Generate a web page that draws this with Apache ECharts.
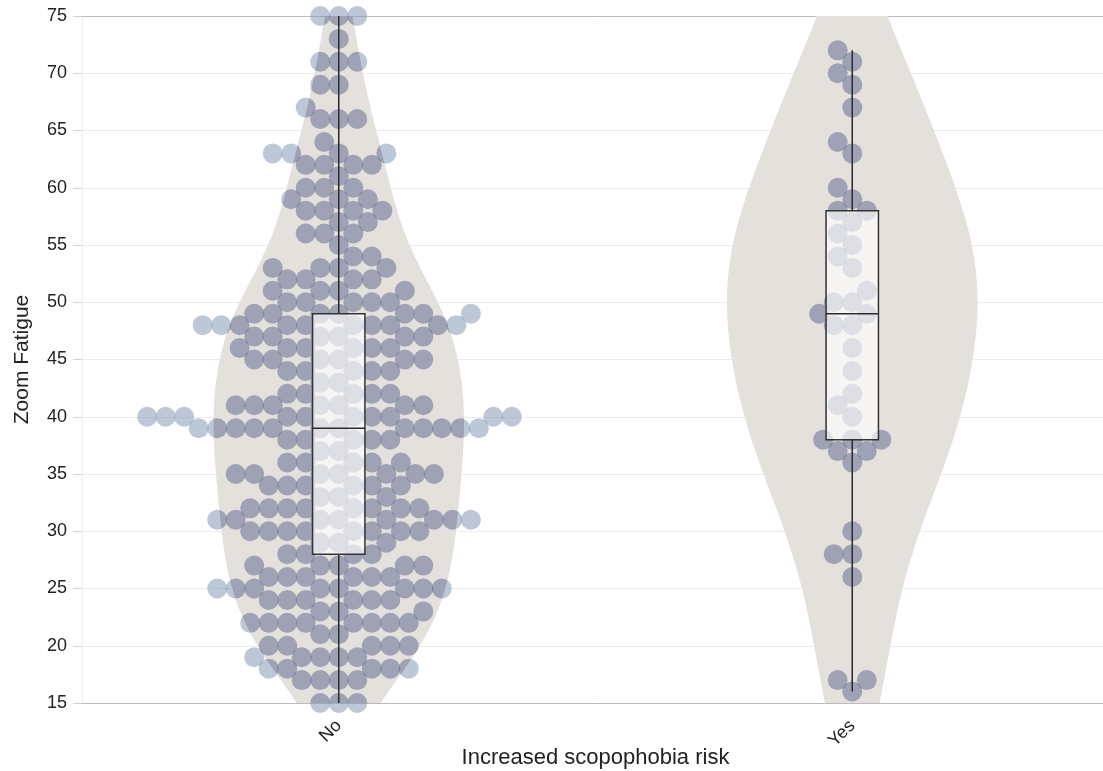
<!DOCTYPE html>
<html>
<head>
<meta charset="utf-8">
<title>Zoom Fatigue</title>
<script src="https://cdn.jsdelivr.net/npm/echarts/dist/echarts.min.js"></script>
<style>
  html, body { margin: 0; padding: 0; background: #fff; }
  #main { width: 1103px; height: 771px; }
</style>
</head>
<body>
<div id="main"></div>
<script>
// 类别
const groups = ['No', 'Yes'];

// 各组的原始得分
const noScores = [
    75, 75, 75, 73, 71, 71, 71, 69, 69, 67, 66, 66, 66, 64,
    63, 63, 63, 63, 62, 62, 62, 62, 61, 60, 60, 60, 59, 59, 59,
    58, 58, 58, 58, 57, 57, 56, 56, 56, 55, 54, 54,
    53, 53, 53, 53, 52, 52, 52, 52, 51, 51, 51, 51,
    50, 50, 50, 50, 50, 49, 49, 49, 49, 49, 49, 49,
    48, 48, 48, 48, 48, 48, 48, 48, 48, 48,
    47, 47, 47, 47, 47, 47, 46, 46, 46, 46, 46, 46,
    45, 45, 45, 45, 45, 45, 44, 44, 44, 44, 44, 43, 43,
    42, 42, 42, 42, 42, 41, 41, 41, 41, 41, 41, 41,
    40, 40, 40, 40, 40, 40, 40, 40, 40, 40,
    39, 39, 39, 39, 39, 39, 39, 39, 39, 39, 39, 39,
    38, 38, 38, 38, 38, 37, 37, 36, 36, 36, 36, 36,
    35, 35, 35, 35, 35, 35, 35, 34, 34, 34, 34, 34, 34, 33, 33, 33,
    32, 32, 32, 32, 32, 32, 32, 32, 31, 31, 31, 31, 31, 31, 31, 31,
    30, 30, 30, 30, 30, 30, 30, 30, 29, 29, 29, 28, 28, 28, 28,
    27, 27, 27, 27, 27, 26, 26, 26, 26, 26, 26,
    25, 25, 25, 25, 25, 25, 25, 25, 24, 24, 24, 24, 24, 24, 23, 23, 23,
    22, 22, 22, 22, 22, 22, 22, 22, 21, 21,
    20, 20, 20, 20, 20, 19, 19, 19, 19, 19, 18, 18, 18, 18, 18,
    17, 17, 17, 17, 15, 15, 15
];
const yesScores = [
    72, 71, 70, 69, 67, 64, 63, 60, 59, 58, 58, 57, 56, 55, 54, 53,
    51, 50, 50, 49, 49, 48, 48, 46, 44, 42, 41, 40, 38, 38, 38,
    37, 37, 36, 30, 28, 28, 26, 17, 17, 16
];

// 箱线图数值
const boxLow = [15, 16];
const boxQ1 = [28, 38];
const boxMedian = [39, 49];
const boxQ3 = [49, 58];
const boxHigh = [75, 72];

const yTicks = [15, 20, 25, 30, 35, 40, 45, 50, 55, 60, 65, 70, 75];

const FONT = "'Liberation Sans', Arial, sans-serif";
const allScores = [noScores, yesScores];

// 核密度估计 (高斯核, Scott 带宽)
function quantile(sorted, p) {
    let pos = (sorted.length - 1) * p;
    let lo = Math.floor(pos);
    let hi = Math.ceil(pos);
    return sorted[lo] + (sorted[hi] - sorted[lo]) * (pos - lo);
}
function kde(values) {
    let n = values.length;
    let mean = values.reduce((a, b) => a + b, 0) / n;
    let sd = Math.sqrt(values.reduce((a, b) => a + (b - mean) * (b - mean), 0) / (n - 1));
    let sorted = values.slice().sort((a, b) => a - b);
    let iqr = quantile(sorted, 0.75) - quantile(sorted, 0.25);
    let bw = 1.06 * Math.min(sd, iqr / 1.34) * Math.pow(n, -0.2);
    let pts = [];
    for (let y = yTicks[0]; y <= yTicks[yTicks.length - 1] + 1e-9; y += 0.25) {
        let d = 0;
        for (let i = 0; i < n; i++) {
            let z = (y - values[i]) / bw;
            d += Math.exp(-0.5 * z * z);
        }
        pts.push([y, d]);
    }
    let maxD = Math.max(...pts.map(p => p[1]));
    return pts.map(p => [p[0], p[1] / maxD]);
}
const densities = allScores.map(kde);

const VIOLIN_HALF = 0.244;
const BOX_HALF = 0.051;

// 小提琴轮廓 (像素坐标)
function violinPoints(g, api) {
    let band = api.size([1, 0])[0];
    let dens = densities[g];
    let right = dens.map(function (p) {
        let c = api.coord([g, p[0]]);
        return [c[0] + p[1] * VIOLIN_HALF * band, c[1]];
    });
    let left = dens.slice().reverse().map(function (p) {
        let c = api.coord([g, p[0]]);
        return [c[0] - p[1] * VIOLIN_HALF * band, c[1]];
    });
    return right.concat(left);
}
// 小提琴外部区域 (带缝隙的多边形)
function outsidePoints(inner) {
    let p0 = inner[0];
    return inner.concat([p0, [-2000, -2000], [4000, -2000], [4000, 4000], [-2000, 4000], [-2000, -2000]]);
}

// 蜂群图布局, 像素空间
let swarmOffsets = null;
let clipCache = {};
function buildSwarm(values, unitPx, diam) {
    let order = values.map((v, i) => i).sort((a, b) => values[a] - values[b]);
    let placed = [];
    let offs = new Array(values.length);
    order.forEach(function (i) {
        let y = values[i] * unitPx;
        let near = placed.filter(p => Math.abs(p.y - y) < diam);
        let cands = [0];
        near.forEach(function (p) {
            let dx = Math.sqrt(diam * diam - (p.y - y) * (p.y - y));
            cands.push(p.x + dx, p.x - dx);
        });
        cands.sort((a, b) => Math.abs(a) - Math.abs(b) || a - b);
        let x = cands.find(c => near.every(p => (p.x - c) * (p.x - c) + (p.y - y) * (p.y - y) >= diam * diam - 0.01));
        if (x === undefined) x = 0;
        placed.push({ x: x, y: y });
        offs[i] = x;
    });
    return offs;
}

let pointData = [];
let k = 0;
allScores.forEach(function (vals, g) {
    vals.forEach(function (v) {
        pointData.push([g, v, k]);
        k++;
    });
});

let boxData = groups.map((g, i) => [i, boxLow[i], boxQ1[i], boxMedian[i], boxQ3[i], boxHigh[i]]);

let chart = echarts.init(document.getElementById('main'));
let option = {
    animation: false,
    backgroundColor: '#ffffff',
    grid: { left: 82, right: -6, top: 16, bottom: 68, containLabel: false, outerBoundsMode: 'none' },
    xAxis: [{
        type: 'category',
        data: groups,
        boundaryGap: true,
        name: 'Increased scopophobia risk',
        nameLocation: 'middle',
        nameGap: 44,
        nameMoveOverlap: false,
        nameTextStyle: { fontSize: 22, color: '#222', fontFamily: FONT },
        axisLine: { lineStyle: { color: '#bbbbbb', width: 1 } },
        axisTick: { alignWithLabel: true, length: 9, lineStyle: { color: '#bbbbbb' } },
        axisLabel: { rotate: 45, fontSize: 18, color: '#222', fontFamily: FONT, margin: 20 },
        splitLine: { show: false }
    }, {
        type: 'category',
        data: groups,
        position: 'top',
        axisLine: { lineStyle: { color: '#bbbbbb', width: 1 } },
        axisTick: { show: false },
        axisLabel: { show: false }
    }],
    yAxis: {
        type: 'value',
        min: 15,
        max: 75,
        interval: 5,
        name: 'Zoom Fatigue',
        nameLocation: 'middle',
        nameGap: 49,
        nameMoveOverlap: false,
        nameTextStyle: { fontSize: 21, color: '#222', fontFamily: FONT },
        axisLine: { show: true, lineStyle: { color: '#f1ede7', width: 1 } },
        axisTick: { show: true, length: 9, lineStyle: { color: '#d4d4d4' } },
        axisLabel: { fontSize: 18, color: '#222', fontFamily: FONT, margin: 15 },
        splitLine: { lineStyle: { color: '#ececec', width: 1 } }
    },
    series: [
        {
            // 小提琴
            type: 'custom',
            z: 1,
            data: [[0], [1]],
            encode: { x: 0 },
            renderItem: function (params, api) {
                return {
                    type: 'polygon',
                    shape: { points: violinPoints(api.value(0), api) },
                    style: { fill: '#e4e0dc' }
                };
            }
        },
        {
            // 蜂群散点: 小提琴内外颜色不同
            type: 'custom',
            z: 2,
            data: pointData,
            encode: { x: 0, y: 1 },
            renderItem: function (params, api) {
                let g = api.value(0);
                let v = api.value(1);
                let idx = api.value(2);
                if (!swarmOffsets) {
                    let unitPx = Math.abs(api.size([0, 1])[1]);
                    swarmOffsets = buildSwarm(noScores, unitPx, 18.5)
                        .concat(buildSwarm(yesScores, unitPx, 18.5));
                }
                if (!clipCache[g]) {
                    let inner = violinPoints(g, api);
                    clipCache[g] = { inner: inner, outer: outsidePoints(inner) };
                }
                let c = api.coord([g, v]);
                let circle = { cx: c[0] + swarmOffsets[idx], cy: c[1], r: 10 };
                return {
                    type: 'group',
                    children: [{
                        type: 'circle',
                        shape: circle,
                        style: { fill: 'rgba(133,155,182,0.55)' },
                        clipPath: { type: 'polygon', shape: { points: clipCache[g].outer } }
                    }, {
                        type: 'circle',
                        shape: circle,
                        style: { fill: 'rgba(101,111,147,0.55)' },
                        clipPath: { type: 'polygon', shape: { points: clipCache[g].inner } }
                    }]
                };
            }
        },
        {
            // 箱线图
            type: 'custom',
            z: 3,
            data: boxData,
            encode: { x: 0, y: [1, 2, 3, 4, 5] },
            renderItem: function (params, api) {
                let g = api.value(0);
                let band = api.size([1, 0])[0];
                let hw = BOX_HALF * band;
                let low = api.coord([g, api.value(1)]);
                let q1 = api.coord([g, api.value(2)]);
                let med = api.coord([g, api.value(3)]);
                let q3 = api.coord([g, api.value(4)]);
                let high = api.coord([g, api.value(5)]);
                let cx = low[0];
                let lineStyle = { stroke: '#2b2b2b', lineWidth: 1.5 };
                return {
                    type: 'group',
                    children: [
                        { type: 'line', shape: { x1: cx, y1: low[1], x2: cx, y2: q1[1] }, style: lineStyle },
                        { type: 'line', shape: { x1: cx, y1: q3[1], x2: cx, y2: high[1] }, style: lineStyle },
                        {
                            type: 'rect',
                            shape: { x: cx - hw, y: q3[1], width: hw * 2, height: q1[1] - q3[1] },
                            style: { fill: 'rgba(255,255,255,0.66)', stroke: '#333', lineWidth: 1.5 }
                        },
                        { type: 'line', shape: { x1: cx - hw, y1: med[1], x2: cx + hw, y2: med[1] }, style: lineStyle }
                    ]
                };
            }
        }
    ]
};
chart.setOption(option);
</script>
</body>
</html>
